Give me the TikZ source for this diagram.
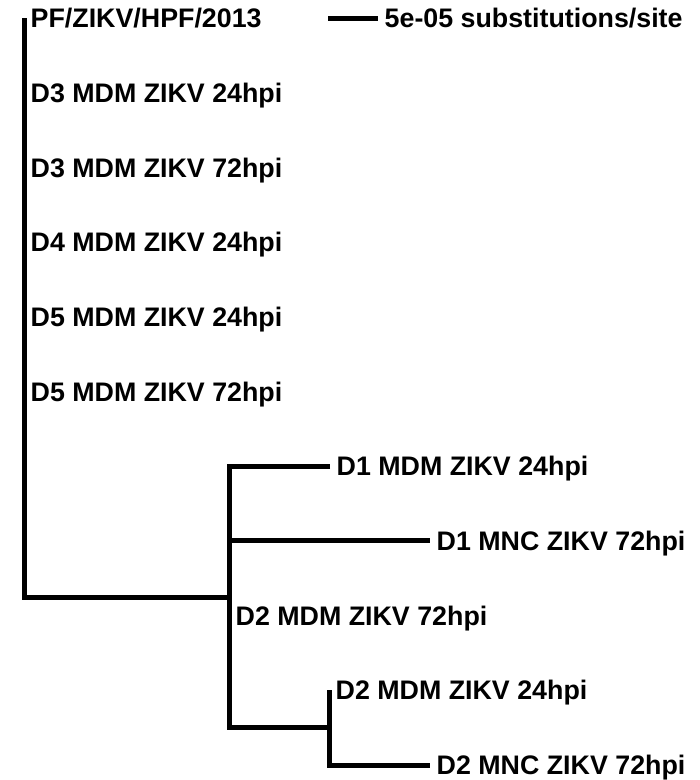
\documentclass[tikz,border=0pt]{standalone}
\usepackage{fontspec}
\setmainfont{Liberation Sans}
\begin{document}
\begin{tikzpicture}[x=1pt,y=-1pt,
  branch/.style={line width=5pt,line join=miter,line cap=butt},
  tiplabel/.style={anchor=base west,inner sep=0pt,xshift=6.5pt,yshift=-9.6pt,
    font=\fontsize{26.8}{30}\selectfont\bfseries}]
\useasboundingbox (0,0) rectangle (700,780);
% coordinates
\coordinate (t1) at (24,18);
\coordinate (t2) at (24,92.7);
\coordinate (t3) at (24,167.4);
\coordinate (t4) at (24,242.1);
\coordinate (t5) at (24,316.8);
\coordinate (t6) at (24,391.5);
\coordinate (root) at (24,308);
\coordinate (clade) at (229,597);
\coordinate (t7) at (330,466.2);
\coordinate (t8) at (430,540.9);
\coordinate (t9) at (229,615.6);
\coordinate (sub) at (329,727.7);
\coordinate (t10) at (329,690.3);
\coordinate (t11) at (430,765);
\coordinate (sb1) at (328,18);
\coordinate (sb2) at (378,18);
% branches
\draw[branch] (t1) -- (root |- clade) -- (clade);
\draw[branch] (t7) -- (clade |- t7) -- (clade |- sub) -- (sub);
\draw[branch] (clade |- t8) -- (t8);
\draw[branch] (t10) -- (sub |- t11) -- (t11);
\draw[branch] (sb1) -- (sb2);
% labels
\node[tiplabel] (l1) at (t1) {PF/ZIKV/HPF/2013};
\node[tiplabel] (l2) at (t2) {D3 MDM ZIKV 24hpi};
\node[tiplabel] (l3) at (t3) {D3 MDM ZIKV 72hpi};
\node[tiplabel] (l4) at (t4) {D4 MDM ZIKV 24hpi};
\node[tiplabel] (l5) at (t5) {D5 MDM ZIKV 24hpi};
\node[tiplabel] (l6) at (t6) {D5 MDM ZIKV 72hpi};
\node[tiplabel] (l7) at (t7) {D1 MDM ZIKV 24hpi};
\node[tiplabel] (l8) at (t8) {D1 MNC ZIKV 72hpi};
\node[tiplabel] (l9) at (t9) {D2 MDM ZIKV 72hpi};
\node[tiplabel] (l10) at (t10) {D2 MDM ZIKV 24hpi};
\node[tiplabel] (l11) at (t11) {D2 MNC ZIKV 72hpi};
\node[tiplabel] (sbl) at (sb2) {5e-05 substitutions/site};
\end{tikzpicture}
\end{document}
